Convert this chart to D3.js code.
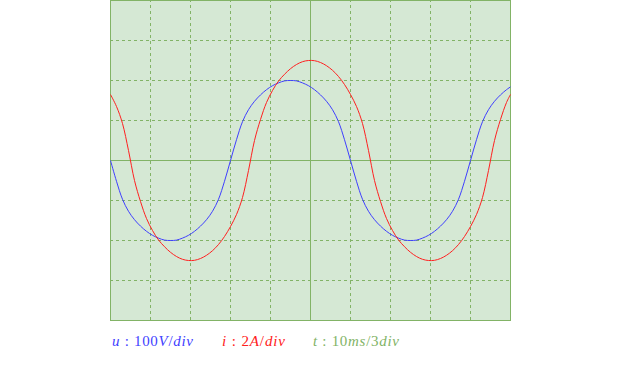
<!DOCTYPE html>
<html>
<head>
<meta charset="utf-8">
<script src="https://cdn.jsdelivr.net/npm/d3@7"></script>
<style>
body { margin: 0; background: #fff; }
</style>
</head>
<body>
<script>
// time in ms (10ms = 3 div), u in V (100V/div), i in A (2A/div)
var timeMs = [0, 0.5, 1, 1.5, 2, 2.5, 3, 3.5, 4, 4.5, 5, 5.5, 6, 6.5, 7, 7.5, 8, 8.5, 9, 9.5,
              10, 10.5, 11, 11.5, 12, 12.5, 13, 13.5, 14, 14.5, 15, 15.5, 16, 16.5, 17, 17.5, 18, 18.5, 19, 19.5,
              20, 20.5, 21, 21.5, 22, 22.5, 23, 23.5, 24, 24.5, 25, 25.5, 26, 26.5, 27, 27.5, 28, 28.5, 29, 29.5,
              30, 30.5, 31, 31.5, 32, 32.5, 33, 33.33];
var voltage = [0, -52, -97, -127, -148, -164, -177, -187, -194, -199, -200, -199, -194, -187, -177, -164, -148, -127, -97, -52,
               0, 52, 97, 127, 148, 164, 177, 187, 194, 199, 200, 199, 194, 187, 177, 164, 148, 127, 97, 52,
               0, -52, -97, -127, -148, -164, -177, -187, -194, -199, -200, -199, -194, -187, -177, -164, -148, -127, -97, -52,
               0, 52, 97, 127, 148, 164, 177, 184];
var current = [3.3, 2.7, 1.85, 0.5, -1.0, -2.05, -2.9, -3.5, -3.97, -4.31, -4.59, -4.80, -4.94, -5.00, -4.99, -4.90, -4.74, -4.51, -4.20, -3.80,
               -3.3, -2.7, -1.85, -0.5, 1.0, 2.05, 2.9, 3.5, 3.97, 4.31, 4.59, 4.80, 4.94, 5.00, 4.99, 4.90, 4.74, 4.51, 4.20, 3.80,
               3.3, 2.7, 1.85, 0.5, -1.0, -2.05, -2.9, -3.5, -3.97, -4.31, -4.59, -4.80, -4.94, -5.00, -4.99, -4.90, -4.74, -4.51, -4.20, -3.80,
               -3.3, -2.7, -1.85, -0.5, 1.0, 2.05, 2.9, 3.3];
// grid divisions
var timeDivs = [0, 10/3, 20/3, 10, 40/3, 50/3, 20, 70/3, 80/3, 30, 100/3];
var voltDivs = [-400, -300, -200, -100, 0, 100, 200, 300, 400];
// legend
var labelSymbols = ["u", "i", "t"];
var labelScales  = ["100V/div", "2A/div", "10ms/3div"];

var width = 621, height = 370;
var green = "#82b366", fillGreen = "#d5e8d4";
var colors = ["#3f3fff", "#ff2020", green];

var svg = d3.select("body").append("svg")
    .attr("width", width)
    .attr("height", height);

var x  = d3.scaleLinear().domain([0, 100/3]).range([110, 510]);
var yU = d3.scaleLinear().domain([-400, 400]).range([320, 0]);
var yI = d3.scaleLinear().domain([-8, 8]).range([320, 0]);

svg.append("rect")
    .attr("x", x(0)).attr("y", yU(400))
    .attr("width", x(100/3) - x(0) + 1).attr("height", yU(-400) - yU(400) + 1)
    .attr("fill", fillGreen);

function isSolid(d, lo, mid, hi) {
    return Math.abs(d - lo) < 1e-6 || Math.abs(d - mid) < 1e-6 || Math.abs(d - hi) < 1e-6;
}

// vertical grid (axis adds the half pixel)
var gx = svg.append("g")
    .attr("transform", "translate(0," + yU(-400) + ")")
    .call(d3.axisBottom(x).tickValues(timeDivs).tickSize(-(yU(-400) - yU(400)) - 1).tickFormat(""));
gx.selectAll(".tick line")
    .attr("stroke-dasharray", function(d) { return isSolid(d, 0, 50/3, 100/3) ? null : "3,3"; });

// horizontal grid
var gy = svg.append("g")
    .attr("transform", "translate(" + x(0) + ",0)")
    .call(d3.axisLeft(yU).tickValues(voltDivs).tickSize(-(x(100/3) - x(0)) - 1).tickFormat(""));
gy.selectAll(".tick line")
    .attr("stroke-dasharray", function(d) { return isSolid(d, -400, 0, 400) ? null : "3,3"; });

[gx, gy].forEach(function(g) {
    g.select(".domain").remove();
    g.selectAll(".tick line").attr("stroke", green).attr("stroke-width", 1);
});

var pts = timeMs.map(function(t, k) { return {t: t, u: voltage[k], i: current[k]}; });

var lineU = d3.line().x(function(d) { return x(d.t) + 0.5; }).y(function(d) { return yU(d.u) + 0.5; })
    .curve(d3.curveCatmullRom.alpha(0.5));
var lineI = d3.line().x(function(d) { return x(d.t) + 0.5; }).y(function(d) { return yI(d.i) + 0.5; })
    .curve(d3.curveCatmullRom.alpha(0.5));

svg.append("path").attr("d", lineU(pts))
    .attr("fill", "none").attr("stroke", colors[0]).attr("stroke-width", 1);
svg.append("path").attr("d", lineI(pts))
    .attr("fill", "none").attr("stroke", colors[1]).attr("stroke-width", 1);

// legend under the plot
var labelX = [112, 222, 313];
var labelW = [81, 63, 86];
labelSymbols.forEach(function(s, k) {
    var t = svg.append("text")
        .attr("x", labelX[k]).attr("y", 346)
        .attr("fill", colors[k])
        .attr("font-family", "'Liberation Serif', 'DejaVu Serif', serif")
        .attr("font-size", 15)
        .attr("textLength", labelW[k])
        .attr("lengthAdjust", "spacing");
    t.append("tspan").attr("font-style", "italic").text(s);
    t.append("tspan").text(" :  ");
    labelScales[k].match(/[0-9\/]+|[A-Za-z]+/g).forEach(function(p) {
        t.append("tspan")
            .attr("font-style", /[A-Za-z]/.test(p) ? "italic" : "normal")
            .text(p);
    });
});
</script>
</body>
</html>
